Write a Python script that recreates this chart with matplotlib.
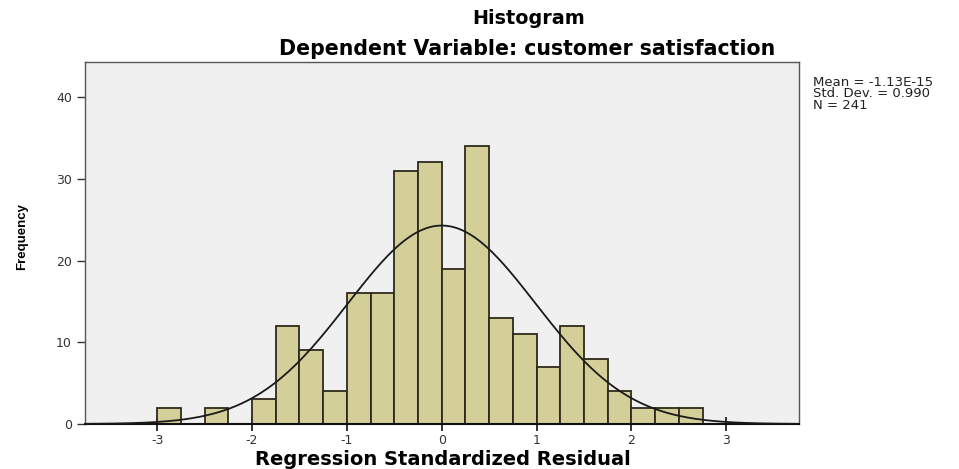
import numpy as np
import matplotlib
matplotlib.use("Agg")
import matplotlib.pyplot as plt

bin_edges = [-3.0, -2.75, -2.5, -2.25, -2.0, -1.75, -1.5, -1.25, -1.0, -0.75, -0.5, -0.25,
             0.0, 0.25, 0.5, 0.75, 1.0, 1.25, 1.5, 1.75, 2.0, 2.25, 2.5, 2.75]
counts = [2, 0, 2, 0, 3, 12, 9, 4, 16, 16, 31, 32, 19, 34, 13, 11, 7, 12, 8, 4, 2, 2, 2]
mean = -1.13e-15
std = 0.990
n = 241
x_ticks = [-3, -2, -1, 0, 1, 2, 3]
y_ticks = [0, 10, 20, 30, 40]

plt.rcParams['font.family'] = ['DejaVu Sans']

fig = plt.figure(figsize=(9.59, 4.69), dpi=100)
ax = fig.add_axes([0.0886, 0.096, 0.745, 0.772])
ax.set_facecolor('#f0f0f0')

edges = np.array(bin_edges)
ax.bar(edges[:-1], counts, width=np.diff(edges), align='edge',
       color='#d4cf98', edgecolor='#2e2a1c', linewidth=1.3, zorder=2)

xs = np.linspace(-3.76, 3.76, 400)
bw = edges[1] - edges[0]
ys = n * bw / (std * np.sqrt(2 * np.pi)) * np.exp(-0.5 * ((xs - mean) / std) ** 2)
ax.plot(xs, ys, color='#1a1a1a', linewidth=1.3, zorder=3)

ax.set_xlim(-3.76, 3.77)
ax.set_ylim(0, 44.3)
ax.set_xticks(x_ticks)
ax.set_xticklabels([str(t) for t in x_ticks])
ax.set_yticks(y_ticks)
ax.set_yticklabels([str(t) for t in y_ticks])
ax.tick_params(axis='x', direction='inout', length=10, width=1.3, colors='#222222',
               labelsize=9, labelcolor='#333333', pad=2)
ax.tick_params(axis='y', direction='out', length=6, width=1.0, colors='#333333',
               labelsize=9, labelcolor='#333333')
for side in ['top', 'right', 'left']:
    ax.spines[side].set_color('#555555')
    ax.spines[side].set_linewidth(1.0)
ax.spines['bottom'].set_color('#111111')
ax.spines['bottom'].set_linewidth(1.5)

t1 = fig.text(0.551, 0.9595, 'Histogram', ha='center', va='center', fontsize=12, fontweight='bold')
t2 = fig.text(0.550, 0.8955, 'Dependent Variable: customer satisfaction', ha='center', va='center',
              fontsize=12, fontweight='bold')
t3 = fig.text(0.462, 0.021, 'Regression Standardized Residual', ha='center', va='center',
              fontsize=12, fontweight='bold')
ylab = fig.text(0.0235, 0.495, 'Frequency', ha='center', va='center', rotation=90,
                fontsize=9.5, fontweight='bold', family=['Liberation Sans Narrow', 'Liberation Sans'])
t4 = fig.text(0.848, 0.800, 'Mean = -1.13E-15\nStd. Dev. = 0.990\nN = 241', ha='left', va='center',
              fontsize=8, linespacing=0.85, color='#222222')

# fit widths to the reference text extents (pixels)
fig.canvas.draw()
r = fig.canvas.get_renderer()
for t, target in [(t1, 112), (t2, 495), (t3, 375), (t4, 120)]:
    w = t.get_window_extent(r).width
    t.set_fontsize(t.get_fontsize() * target / w)

fig.savefig('out.png', dpi=100)
